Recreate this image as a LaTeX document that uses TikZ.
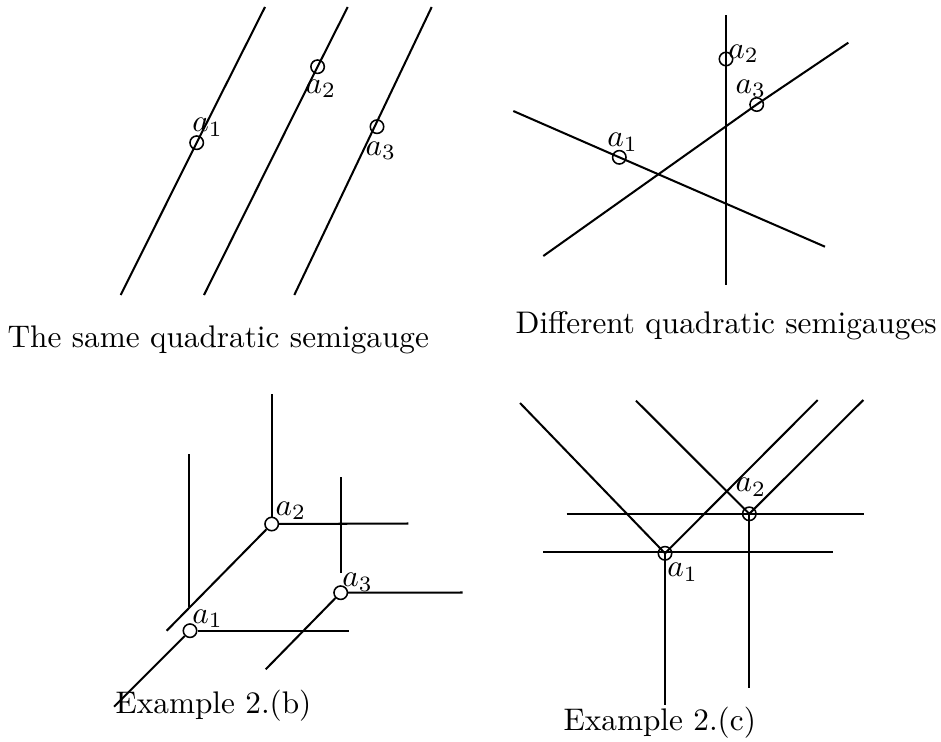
\documentclass[tikz,border=0pt]{standalone}
\begin{document}
\begin{tikzpicture}[x=0.32pt,y=-0.32pt,
  ln/.style={line width=0.65pt},
  pt/.style={circle,draw,line width=0.5pt,minimum size=4.3pt,inner sep=0pt},
  lbl/.style={anchor=base west,inner sep=0pt},
  captxt/.style={anchor=base west,inner sep=0pt}]
\useasboundingbox (0,0) rectangle (941,741);
% ---------- Panel 1 ----------
\node[pt] (p1a) at (196.7,142.7) {};
\node[pt] (p1b) at (317.6,66.7) {};
\node[pt] (p1c) at (377.0,126.7) {};
\coordinate (p1t1) at (265,7);   \coordinate (p1b1) at (120.7,295);
\coordinate (p1t2) at (347.7,7); \coordinate (p1b2) at (204,295);
\coordinate (p1t3) at (431.7,7); \coordinate (p1b3) at (294.3,295);
\draw[ln] (p1t1) -- (p1a.center) -- (p1b1);
\draw[ln] (p1t2) -- (p1b.center) -- (p1b2);
\draw[ln] (p1t3) -- (p1b3);
\node[lbl] (l1a) at (191.7,131.7) {$a_1$};
\node[lbl] (l1b) at (305,93.3) {$a_2$};
\node[lbl] (l1c) at (365,155) {$a_3$};
\node[captxt] (cap1) at (7,347) {The same quadratic semigauge};
% ---------- Panel 2 ----------
\node[pt] (p2a) at (619.3,157.3) {};
\node[pt] (p2b) at (726,59) {};
\node[pt] (p2c) at (756.7,104.5) {};
\coordinate (p2vt) at (726,15);    \coordinate (p2vb) at (726,285);
\coordinate (p2A1) at (513.3,111); \coordinate (p2A2) at (825,246.7);
\coordinate (p2B1) at (543.3,256); \coordinate (p2B2) at (848.3,42.7);
\draw[ln] (p2vt) -- (p2b.center) -- (p2vb);
\draw[ln] (p2A1) -- (p2a.center) -- (p2A2);
\draw[ln] (p2B1) -- (p2c.center) -- (p2B2);
\node[lbl] (l2a) at (606.7,146.7) {$a_1$};
\node[lbl] (l2b) at (727.7,58.3) {$a_2$};
\node[lbl] (l2c) at (735,93.3) {$a_3$};
\node[captxt] (cap2) at (515,333) {Different quadratic semigauges};
% ---------- Panel 3 ----------
\node[pt] (p3a) at (190,630.7) {};
\node[pt] (p3b) at (271.7,524) {};
\node[pt] (p3c) at (340.7,592.7) {};
\coordinate (p3v1t) at (189.3,454); \coordinate (p3v1b) at (189.3,607);
\coordinate (p3v2t) at (271.7,394);
\coordinate (p3v3t) at (340.7,477.3); \coordinate (p3v3b) at (340.7,573.3);
\coordinate (p3h1) at (349.3,630.7);
\coordinate (p3h2) at (408.3,523.5);
\coordinate (p3h3) at (462.7,592.5);
\coordinate (p3d2) at (166.7,630.7);
\coordinate (p3d1) at (114,706.7);
\coordinate (p3d3) at (265.7,669.3);
\draw[ln] (p3v1t) -- (p3v1b);
\draw[ln] (p3v2t) -- (p3b);
\draw[ln] (p3v3t) -- (p3v3b);
\draw[ln] (p3a) -- (p3h1);
\draw[ln] (p3b) -- (p3h2);
\draw[ln] (p3c) -- (p3h3);
\draw[ln] (p3b) -- (p3d2);
\draw[ln] (p3a) -- (p3d1);
\draw[ln] (p3c) -- (p3d3);
\node[lbl] (l3a) at (191.7,623.3) {$a_1$};
\node[lbl] (l3b) at (275,515) {$a_2$};
\node[lbl] (l3c) at (341.7,586.7) {$a_3$};
\node[captxt] (cap3) at (115,713) {Example 2.(b)};
% ---------- Panel 4 ----------
\node[pt] (p4a) at (665,553.3) {};
\node[pt] (p4b) at (749.3,513.8) {};
\coordinate (p4L1) at (520,403);
\coordinate (p4L2) at (636,400.7);
\coordinate (p4L3) at (817.7,400);
\coordinate (p4L4) at (863.3,400);
\coordinate (p4Hu1) at (566.7,514.3); \coordinate (p4Hu2) at (864.3,514.3);
\coordinate (p4Hl1) at (543.3,552.3); \coordinate (p4Hl2) at (833.3,552.3);
\coordinate (p4Va) at (665,705);
\coordinate (p4Vb) at (749.3,688.3);
\draw[ln] (p4L1) -- (p4a.center) -- (p4L3);
\draw[ln] (p4L2) -- (p4b.center) -- (p4L4);
\draw[ln] (p4Hu1) -- (p4Hu2);
\draw[ln] (p4Hl1) -- (p4Hl2);
\draw[ln] (p4a.center) -- (p4Va);
\draw[ln] (p4b.center) -- (p4Vb);
\node[lbl] (l4a) at (666.7,576.7) {$a_1$};
\node[lbl] (l4b) at (735,491.7) {$a_2$};
\node[captxt] (cap4) at (563,730) {Example 2.(c)};
\end{tikzpicture}
\end{document}
